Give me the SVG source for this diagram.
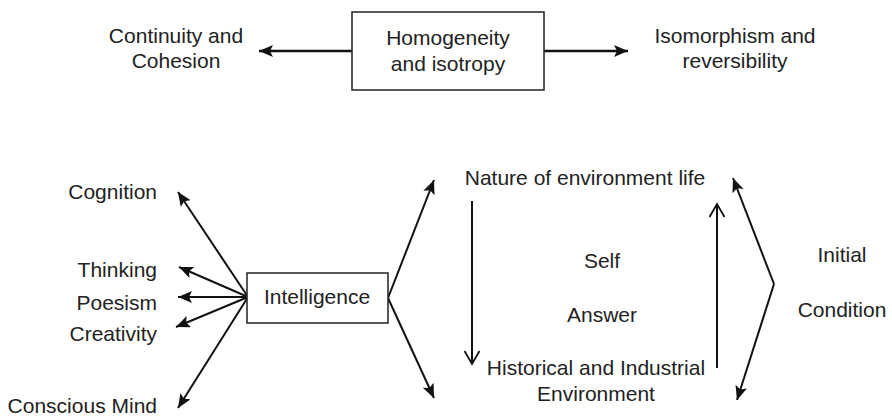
<svg xmlns="http://www.w3.org/2000/svg" width="892" height="417" viewBox="0 0 892 417">
<style>
text{font-family:"Liberation Sans",Arial,sans-serif;font-size:21px;fill:#222}
.box{fill:#fff;stroke:#222;stroke-width:1.5}
.c{stroke:#111;stroke-width:2;fill:none}
.t{stroke-width:2.5}
</style>
<defs>
<marker id="ah" markerUnits="userSpaceOnUse" markerWidth="16" markerHeight="14" refX="14" refY="6" orient="auto">
<path d="M0,0 L14,6 L0,12 L3,6 z" fill="#111"/>
</marker>
<marker id="oh" markerUnits="userSpaceOnUse" markerWidth="20" markerHeight="20" refX="14" refY="8" orient="auto">
<path d="M1,0.5 L14,8 L1,15.5" fill="none" stroke="#111" stroke-width="1.8"/>
</marker>
</defs>
<g id="connectors">
<line class="c t" x1="352" y1="51" x2="259" y2="51" marker-end="url(#ah)"/>
<line class="c t" x1="544" y1="51" x2="628" y2="51" marker-end="url(#ah)"/>
<line class="c" x1="248" y1="297" x2="178" y2="192" marker-end="url(#ah)"/>
<line class="c" x1="248" y1="297" x2="179" y2="267" marker-end="url(#ah)"/>
<line class="c" x1="248" y1="297" x2="178" y2="297" marker-end="url(#ah)"/>
<line class="c" x1="248" y1="297" x2="176" y2="327" marker-end="url(#ah)"/>
<line class="c" x1="248" y1="297" x2="178" y2="408" marker-end="url(#ah)"/>
<line class="c" x1="388" y1="298" x2="434" y2="180" marker-end="url(#ah)"/>
<line class="c" x1="388" y1="298" x2="434" y2="398" marker-end="url(#ah)"/>
<line class="c" x1="472" y1="201" x2="472" y2="364" marker-end="url(#oh)"/>
<line class="c" x1="717" y1="368" x2="717" y2="204" marker-end="url(#oh)"/>
<line class="c" x1="774" y1="284" x2="733" y2="178" marker-end="url(#ah)"/>
<line class="c" x1="774" y1="284" x2="737" y2="400" marker-end="url(#ah)"/>
</g>
<g id="homogeneity">
<rect class="box" x="352" y="12" width="192" height="78"/>
<text x="448" y="45" text-anchor="middle">Homogeneity</text>
<text x="448" y="71" text-anchor="middle">and isotropy</text>
</g>
<g id="continuity">
<text x="176" y="43" text-anchor="middle">Continuity and</text>
<text x="176" y="68" text-anchor="middle">Cohesion</text>
</g>
<g id="isomorphism">
<text x="735" y="43" text-anchor="middle">Isomorphism and</text>
<text x="735" y="68" text-anchor="middle">reversibility</text>
</g>
<g id="intelligence">
<rect class="box" x="247" y="273" width="141" height="50"/>
<text x="317" y="304" text-anchor="middle">Intelligence</text>
</g>
<g id="cognition"><text x="157" y="199" text-anchor="end">Cognition</text></g>
<g id="thinking"><text x="157" y="277" text-anchor="end">Thinking</text></g>
<g id="poesism"><text x="157" y="310" text-anchor="end">Poesism</text></g>
<g id="creativity"><text x="157" y="341" text-anchor="end">Creativity</text></g>
<g id="conscious"><text x="157" y="413" text-anchor="end">Conscious Mind</text></g>
<g id="nature"><text x="585" y="185" text-anchor="middle">Nature of environment life</text></g>
<g id="self-answer">
<text x="602" y="268" text-anchor="middle">Self</text>
<text x="602" y="322" text-anchor="middle">Answer</text>
</g>
<g id="historical">
<text x="596" y="375" text-anchor="middle">Historical and Industrial</text>
<text x="596" y="401" text-anchor="middle">Environment</text>
</g>
<g id="initial">
<text x="842" y="262" text-anchor="middle">Initial</text>
<text x="842" y="317" text-anchor="middle">Condition</text>
</g>
</svg>
